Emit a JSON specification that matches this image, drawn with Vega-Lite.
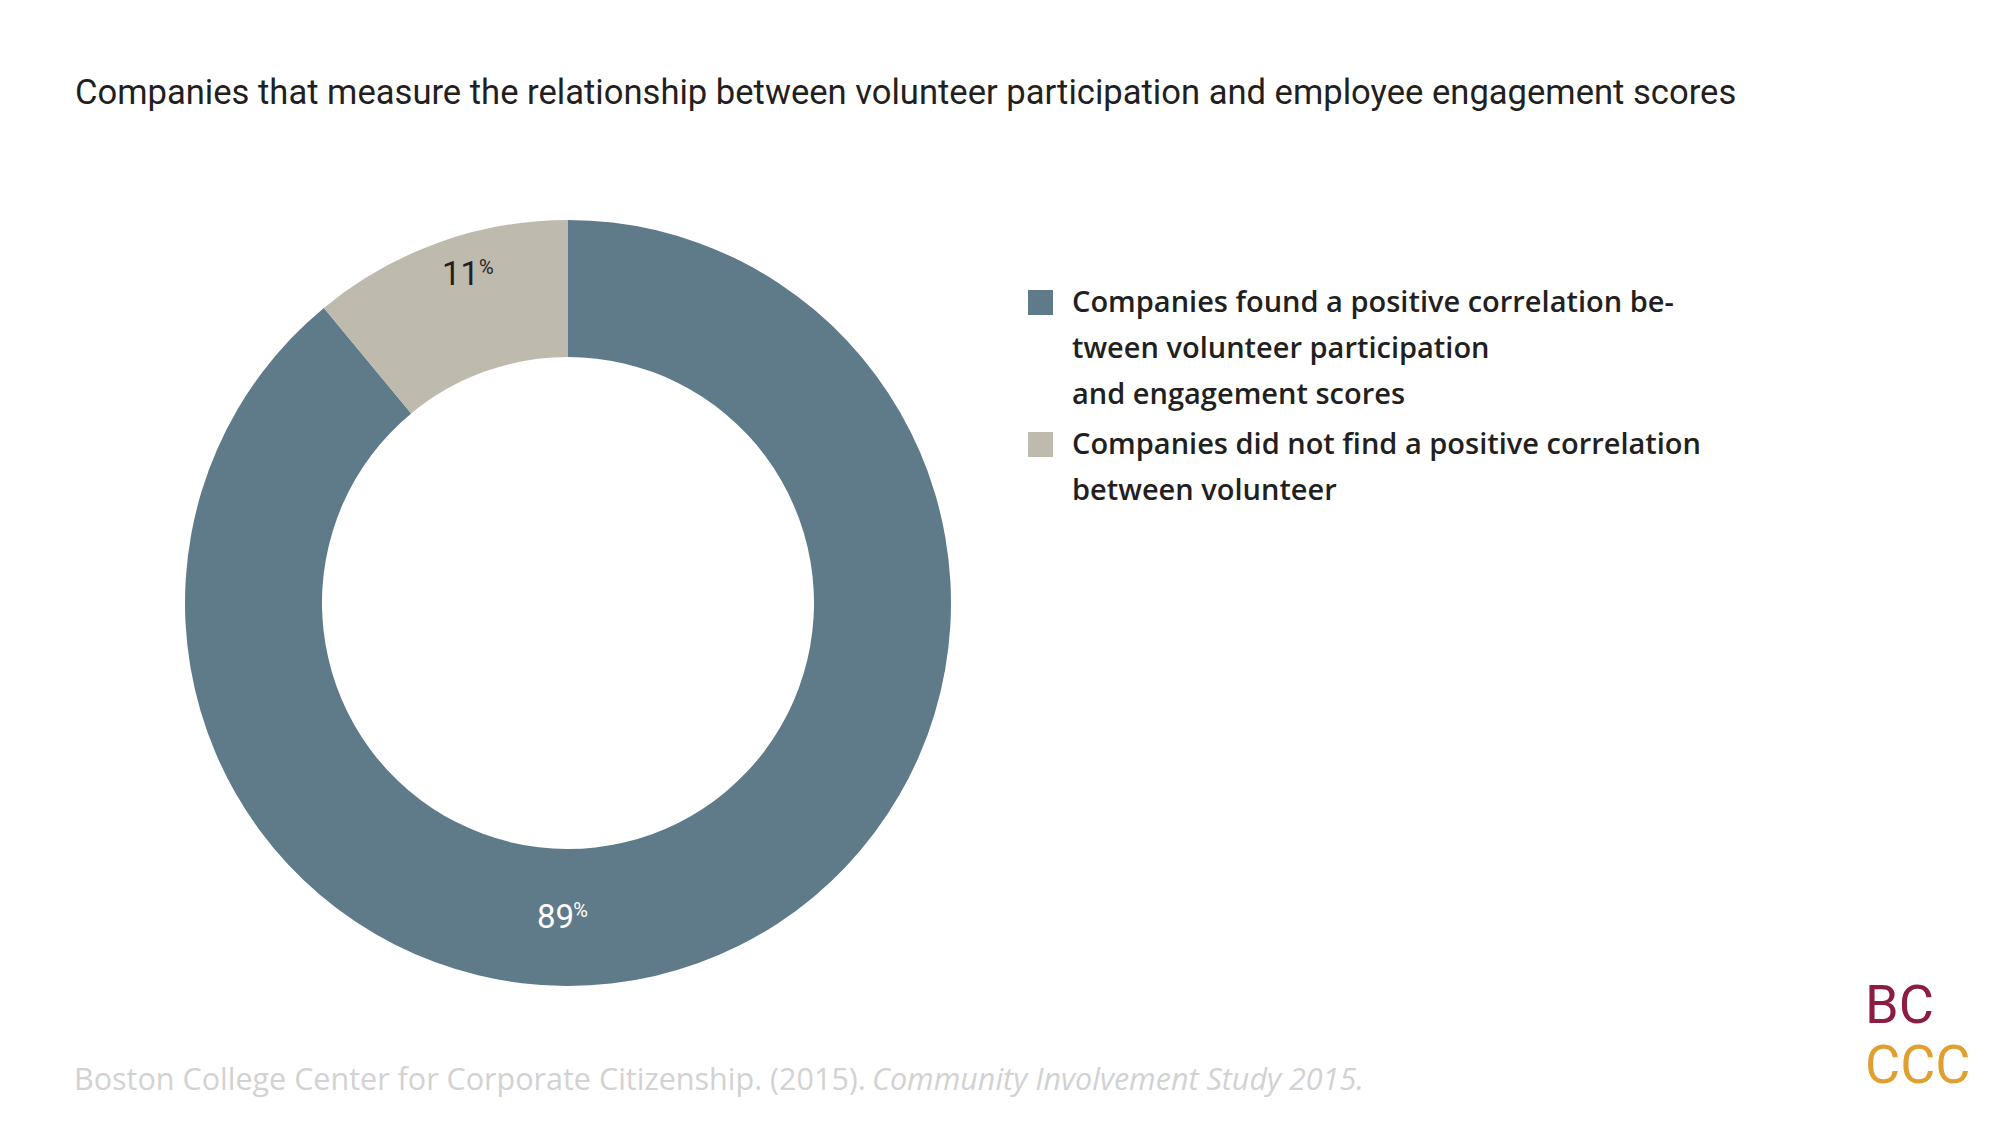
{
  "$schema": "https://vega.github.io/schema/vega-lite/v6.json",
  "background": "white",
  "padding": {"left": 74, "top": 76, "right": 20, "bottom": 25},
  "autosize": {"type": "pad"},
  "bounds": "flush",
  "spacing": 450,
  "title": {
    "text": "Companies that measure the relationship between volunteer participation and employee engagement scores",
    "anchor": "start",
    "frame": "group",
    "dx": -110,
    "offset": 108,
    "font": "Roboto",
    "fontSize": 34.6,
    "fontWeight": "normal",
    "color": "#231f20"
  },
  "config": {
    "view": {"stroke": null},
    "style": {"guide-label": {"lineHeight": 46}}
  },
  "hconcat": [
    {
      "width": 766,
      "height": 766,
      "data": {
        "values": [
          {"response": "Companies found a positive correlation between volunteer participation and engagement scores", "value": 89},
          {"response": "Companies did not find a positive correlation between volunteer", "value": 11}
        ]
      },
      "title": {
        "text": "Boston College Center for Corporate Citizenship. (2015).",
        "orient": "bottom",
        "anchor": "start",
        "frame": "group",
        "dx": -111,
        "offset": 80,
        "font": "Open Sans",
        "fontSize": 30.5,
        "fontWeight": "normal",
        "color": "#d2d2d2"
      },
      "encoding": {
        "theta": {"field": "value", "type": "quantitative", "stack": true},
        "order": {"field": "value", "type": "quantitative", "sort": "descending"}
      },
      "layer": [
        {
          "mark": {"type": "arc", "outerRadius": 383, "innerRadius": 246},
          "encoding": {
            "color": {
              "field": "response",
              "type": "nominal",
              "scale": {
                "domain": [
                  "Companies found a positive correlation between volunteer participation and engagement scores",
                  "Companies did not find a positive correlation between volunteer"
                ],
                "range": ["#5f7a88", "#bebaae"]
              },
              "legend": {
                "title": null,
                "orient": "none",
                "legendX": 841,
                "legendY": 68,
                "symbolType": "square",
                "symbolSize": 625,
                "symbolStrokeWidth": 0,
                "labelOffset": 17,
                "labelFont": "Open Sans",
                "labelFontSize": 29,
                "labelFontWeight": 600,
                "labelColor": "#231f20",
                "labelLimit": 900,
                "rowPadding": 20,
                "labelExpr": "indexof(datum.label, 'did not') < 0 ? ['Companies found a positive correlation be-', 'tween volunteer participation', 'and engagement scores'] : ['Companies did not find a positive correlation', 'between volunteer']"
              }
            }
          }
        },
        {
          "mark": {"type": "text", "radius": 350, "dx": -131, "dy": -14, "font": "Roboto", "fontSize": 33, "fill": "white", "align": "center", "baseline": "middle"},
          "encoding": {
            "text": {"condition": {"test": "indexof(datum.response, 'did not') < 0", "field": "value"}, "value": ""}
          }
        },
        {
          "mark": {"type": "text", "radius": 350, "dx": -106, "dy": -21, "font": "Roboto", "fontSize": 20, "fill": "white", "align": "center", "baseline": "middle"},
          "encoding": {
            "text": {"condition": {"test": "indexof(datum.response, 'did not') < 0", "value": "%"}, "value": ""}
          }
        },
        {
          "mark": {"type": "text", "radius": 350, "dx": 11, "dy": 1, "font": "Roboto", "fontSize": 33, "fill": "#231f20", "align": "center", "baseline": "middle"},
          "encoding": {
            "text": {"condition": {"test": "indexof(datum.response, 'did not') >= 0", "field": "value"}, "value": ""}
          }
        },
        {
          "mark": {"type": "text", "radius": 350, "dx": 37, "dy": -6, "font": "Roboto", "fontSize": 20, "fill": "#231f20", "align": "center", "baseline": "middle"},
          "encoding": {
            "text": {"condition": {"test": "indexof(datum.response, 'did not') >= 0", "value": "%"}, "value": ""}
          }
        }
      ]
    },
    {
      "width": 1,
      "height": 766,
      "data": {"values": []},
      "mark": "point",
      "title": {
        "text": "Community Involvement Study 2015.",
        "orient": "bottom",
        "anchor": "start",
        "frame": "group",
        "dx": -529,
        "offset": 80,
        "font": "Open Sans",
        "fontSize": 30.5,
        "fontStyle": "italic",
        "fontWeight": "normal",
        "color": "#d2d2d2"
      }
    },
    {
      "width": 90,
      "height": 740,
      "data": {"values": []},
      "mark": "point",
      "title": {
        "text": "BC",
        "subtitle": "CCC",
        "orient": "bottom",
        "anchor": "start",
        "frame": "group",
        "dx": 13,
        "offset": 20,
        "font": "Roboto",
        "fontSize": 54,
        "fontWeight": "normal",
        "color": "#8c1d40",
        "subtitleFont": "Roboto",
        "subtitleFontSize": 54,
        "subtitleColor": "#e0a030",
        "subtitlePadding": 6
      }
    }
  ]
}
